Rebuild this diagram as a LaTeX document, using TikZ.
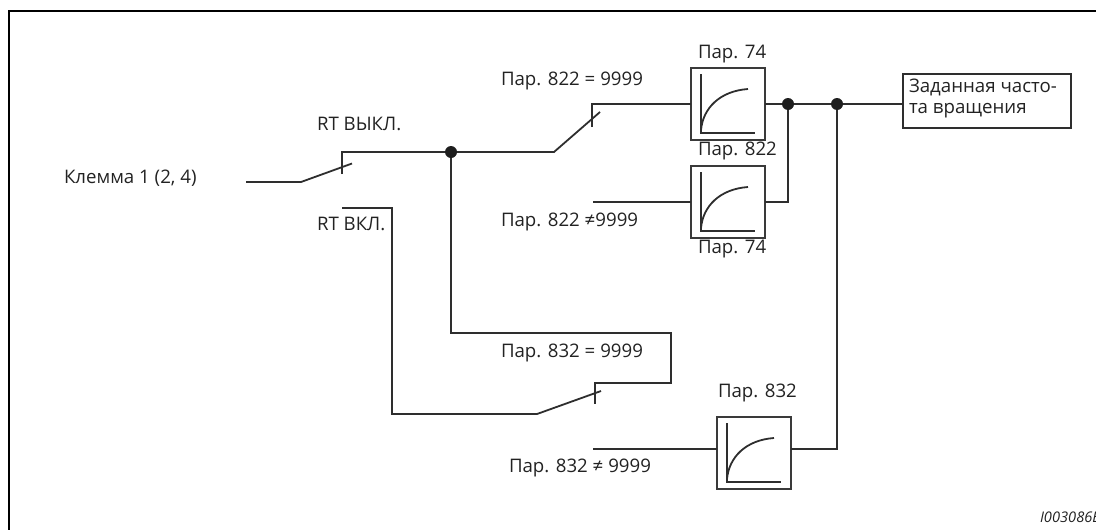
\documentclass[tikz,border=0pt]{standalone}
\usepackage{fontspec}
\setmainfont{Open Sans}
\begin{document}
\begin{tikzpicture}[x=0.75pt,y=-0.75pt,
  wire/.style={line width=1.35pt,draw=wirecol,line join=miter},
  frameline/.style={line width=1.7pt,draw=black},
  lbl/.style={anchor=base west,inner sep=0pt,outer sep=0pt,font=\fontsize{14pt}{16pt}\selectfont,text=textcol},
  idlbl/.style={anchor=base west,inner sep=0pt,outer sep=0pt,font=\fontsize{11pt}{13pt}\selectfont\itshape,text=textcol},
  rampbox/.style={draw=boxcol,line width=1.5pt,minimum width=55.5pt,minimum height=54pt,inner sep=0pt,outer sep=0pt},
  outbox/.style={draw=wirecol,line width=1.5pt,minimum width=126pt,minimum height=40.5pt,inner sep=0pt,outer sep=0pt},
  junction/.style={circle,fill=dotcol,draw=none,minimum size=9pt,inner sep=0pt,outer sep=0pt}]
\definecolor{wirecol}{HTML}{2E2E2E}
\definecolor{boxcol}{HTML}{3A3A3A}
\definecolor{textcol}{HTML}{222222}
\definecolor{dotcol}{HTML}{1E1E1E}
\useasboundingbox (0,0) rectangle (1096,529);
\tikzset{pics/ramp/.style={code={
  \draw[line width=1.35pt,draw=wirecol] (-27,-30) -- (-27,29) -- (27,29);
  \draw[line width=1.35pt,draw=wirecol] (-27,26) .. controls (-25,4) and (-8,-13) .. (20,-15);
}}}
% frame
\coordinate (fa) at (1097,11);
\coordinate (fb) at (9.3,11);
\coordinate (fc) at (9.3,530);
\draw[frameline] (fa) -- (fb) -- (fc);
% boxes
\node[rampbox] (r1) at (728,104) {};
\node[rampbox] (r2) at (728,202) {};
\node[rampbox] (r3) at (754,453) {};
\pic at (r1) {ramp};
\pic at (r2) {ramp};
\pic at (r3) {ramp};
\node[outbox] (out) at (987,101) {};
% junctions
\node[junction] (j1) at (451,152) {};
\node[junction] (j2) at (788,104) {};
\node[junction] (j3) at (837,104) {};
% free ends and switch points
\coordinate (inA) at (246,182);
\coordinate (s1a) at (301,182);
\coordinate (s1b) at (352,163.5);
\coordinate (s1t) at (342,152);
\coordinate (s1u) at (342,174);
\coordinate (s1v) at (342,208);
\coordinate (c1) at (392,208);
\coordinate (c2) at (392,414);
\coordinate (s3a) at (537,414);
\coordinate (s3b) at (601,391);
\coordinate (s3t) at (595,383);
\coordinate (s3u) at (595,404);
\coordinate (c3) at (671,383);
\coordinate (c4) at (671,333);
\coordinate (c5) at (451,333);
\coordinate (s2a) at (554,152);
\coordinate (s2b) at (600,112);
\coordinate (s2t) at (592,104);
\coordinate (s2u) at (592,127);
\coordinate (i2) at (593,202);
\coordinate (i3) at (593,449);
\coordinate (c6) at (788,202);
\coordinate (c7) at (837,449);
% wires
\draw[wire] (inA) -- (s1a) -- (s1b);
\draw[wire] (s1u) -- (s1t) -- (j1);
\draw[wire] (j1) -- (s2a) -- (s2b);
\draw[wire] (s2u) -- (s2t) -- (r1.west);
\draw[wire] (r1.east) -- (j2);
\draw[wire] (j2) -- (j3);
\draw[wire] (j3) -- (out.west |- j3);
\draw[wire] (i2) -- (r2.west);
\draw[wire] (r2.east) -- (c6) -- (j2);
\draw[wire] (j1) -- (c5) -- (c4) -- (c3) -- (s3t) -- (s3u);
\draw[wire] (s3b) -- (s3a) -- (c2) -- (c1) -- (s1v);
\draw[wire] (i3) -- (r3.west |- i3);
\draw[wire] (r3.east |- c7) -- (c7) -- (j3);
% labels
\node[lbl] (t1) at (64,183) {Клемма 1 (2, 4)};
\node[lbl] (t2) at (317,130) {RT ВЫКЛ.};
\node[lbl] (t3) at (317,230) {RT ВКЛ.};
\node[lbl] (t4) at (501,85) {Пар. 822 = 9999};
\node[lbl] (t5) at (698,58) {Пар. 74};
\node[lbl] (t6) at (698,155) {Пар. 822};
\node[lbl] (t7) at (501,226) {Пар. 822 ≠9999};
\node[lbl] (t8) at (698,253) {Пар. 74};
\node[lbl] (t9) at (501,357) {Пар. 832 = 9999};
\node[lbl] (t10) at (509,472) {Пар. 832 ≠ 9999};
\node[lbl] (t11) at (718,397) {Пар. 832};
\node[lbl] (t12) at (909,92) {Заданная часто-};
\node[lbl] (t13) at (909,113) {та вращения};
\node[idlbl] (t14) at (1040,522) {I003086E};
\end{tikzpicture}
\end{document}
